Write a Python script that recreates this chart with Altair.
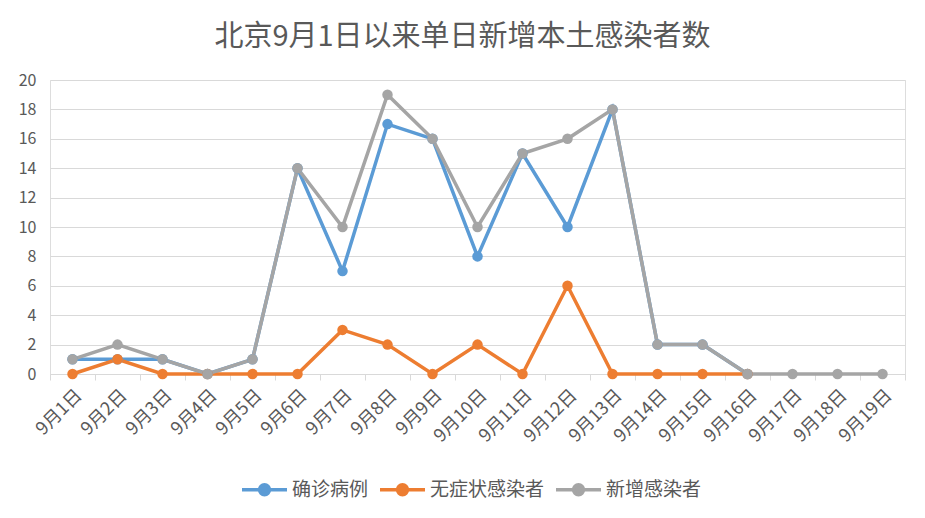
import altair as alt
import pandas as pd

dates = [f"9月{i}日" for i in range(1, 20)]
confirmed = [1, 1, 1, 0, 1, 14, 7, 17, 16, 8, 15, 10, 18, 2, 2, 0]
asymptomatic = [0, 1, 0, 0, 0, 0, 3, 2, 0, 2, 0, 6, 0, 0, 0, 0]
total = [1, 2, 1, 0, 1, 14, 10, 19, 16, 10, 15, 16, 18, 2, 2, 0, 0, 0, 0]
series = ["确诊病例", "无症状感染者", "新增感染者"]
colors = ["#5B9BD5", "#ED7D31", "#A5A5A5"]

rows = []
for name, vals in zip(series, [confirmed, asymptomatic, total]):
    for d, v in zip(dates, vals):
        rows.append({"date": d, "value": v, "series": name})
df = pd.DataFrame(rows)

font = "Noto Sans CJK SC"
legend_symbol = ("M-1,0 L-0.22,0 M0.22,0 L1,0 "
                 "M0.22,0 A0.22,0.22 0 1,1 -0.22,0 A0.22,0.22 0 1,1 0.22,0 Z")

chart = alt.Chart(df).mark_line(
    strokeWidth=3.5,
    point=alt.OverlayMarkDef(filled=True, size=110, opacity=1),
).encode(
    x=alt.X("date:N", sort=dates, scale=alt.Scale(type="band", domain=dates, paddingInner=0, paddingOuter=0),
            axis=alt.Axis(title=None, labelAngle=-45, labelFontSize=18, labelColor="#595959",
                          domainColor="#d9d9d9", tickColor="#d9d9d9", tickSize=6, tickBand="extent",
                          grid=False, labelPadding=6, labelFont=font)),
    y=alt.Y("value:Q", scale=alt.Scale(domain=[0, 20]),
            axis=alt.Axis(title=None, values=list(range(0, 21, 2)), labelFontSize=16, labelColor="#595959",
                          domain=False, ticks=False, gridColor="#d9d9d9", labelPadding=14, labelFont=font)),
    color=alt.Color("series:N", sort=series, scale=alt.Scale(domain=series, range=colors),
                    legend=alt.Legend(title=None, orient="none", direction="horizontal",
                                      legendX=190, legendY=385, labelFontSize=19, labelColor="#595959",
                                      labelFont=font, symbolType=legend_symbol, symbolStrokeWidth=3.5,
                                      symbolSize=2025, columnPadding=4, labelOffset=3)),
    order=alt.Order("series_order:Q"),
).transform_calculate(
    series_order="indexof(['确诊病例','无症状感染者','新增感染者'], datum.series)"
).properties(
    width=855,
    height=294,
    title=alt.Title("北京9月1日以来单日新增本土感染者数", fontSize=29, color="#595959", font=font,
                    fontWeight="normal", anchor="middle", offset=20, dx=-15),
    autosize=alt.AutoSizeParams(type="none"),
    padding={"left": 50, "top": 80, "right": 20, "bottom": 144},
).configure_view(stroke=None).configure(background="white")

chart.save("out.html", embed_options={"renderer": "svg", "actions": False})
